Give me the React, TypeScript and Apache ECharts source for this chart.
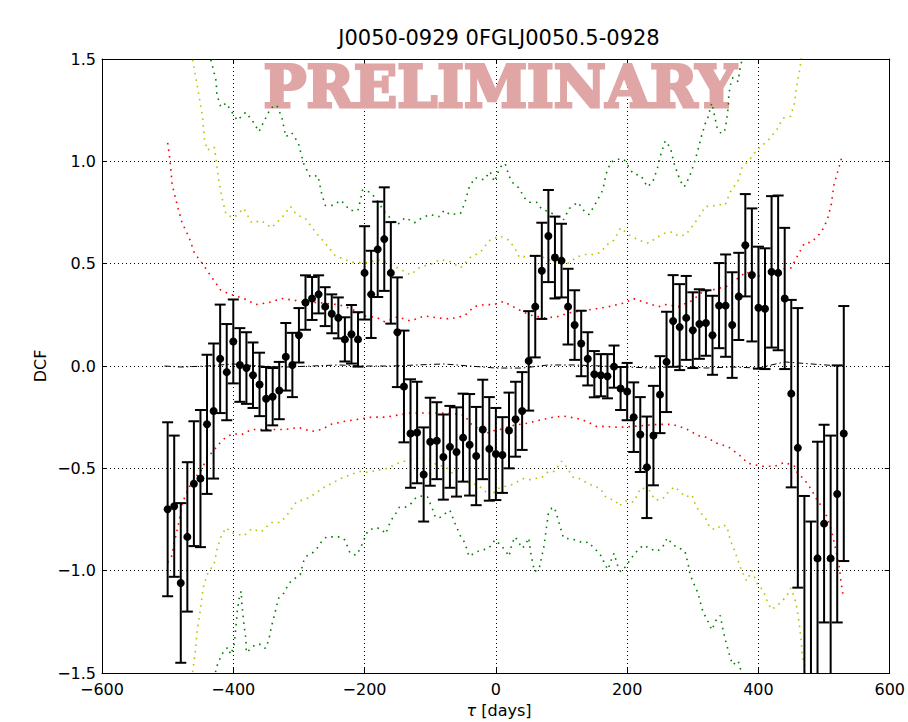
import React, { useEffect, useRef } from "react";
import * as echarts from "echarts";

const titleText = "J0050-0929 0FGLJ0050.5-0928";
const xTicks = [-600, -400, -200, 0, 200, 400, 600];
const yTicks = [-1.5, -1.0, -0.5, 0.0, 0.5, 1.0, 1.5];

const dcfTau = [-500,-490,-480,-470,-460,-450,-440,-430,-420,-410,-400,-390,-380,-370,-360,-350,-340,-330,-320,-310,-300,-290,-280,-270,-260,-250,-240,-230,-220,-210,-200,-190,-180,-170,-160,-150,-140,-130,-120,-110,-100,-90,-80,-70,-60,-50,-40,-30,-20,-10,0,10,20,30,40,50,60,70,80,90,100,110,120,130,140,150,160,170,180,190,200,210,220,230,240,250,260,270,280,290,300,310,320,330,340,350,360,370,380,390,400,410,420,430,440,450,460,470,480,490,500,510,520,530];

const dcfValue = [
  -0.70,-0.685,-1.06,-0.835,-0.575,-0.55,-0.285,-0.22,0.035,-0.03,
  0.12,0.005,-0.01,-0.045,-0.09,-0.16,-0.15,-0.12,0.045,0.005,
  0.15,0.31,0.33,0.35,0.29,0.255,0.235,0.13,0.155,0.13,
  0.455,0.35,0.57,0.62,0.455,0.165,-0.10,-0.33,-0.325,-0.53,
  -0.37,-0.365,-0.445,-0.395,-0.42,-0.35,-0.385,-0.44,-0.31,-0.405,
  -0.43,-0.435,-0.315,-0.26,-0.22,0.025,0.29,0.465,0.635,0.53,
  0.515,0.29,0.20,0.11,0.035,-0.04,-0.045,-0.05,-0.003,-0.11,
  -0.125,-0.25,-0.335,-0.495,-0.34,-0.14,0.02,0.22,0.19,0.235,
  0.175,0.205,0.21,0.15,0.295,0.295,0.20,0.34,0.59,0.445,
  0.285,0.28,0.46,0.455,0.33,-0.135,-0.40,-1.58,-1.70,-0.94,
  -0.77,-0.94,-0.625,-0.33
];

const dcfError = [
  0.425,0.345,0.39,0.365,0.305,0.335,0.34,0.33,0.265,0.235,
  0.205,0.18,0.175,0.16,0.155,0.155,0.14,0.14,0.165,0.157,
  0.133,0.133,0.105,0.093,0.095,0.095,0.10,0.108,0.143,0.133,
  0.228,0.213,0.233,0.253,0.248,0.268,0.273,0.265,0.248,0.23,
  0.215,0.188,0.208,0.20,0.218,0.215,0.248,0.24,0.243,0.253,
  0.225,0.185,0.185,0.183,0.19,0.243,0.248,0.235,0.225,0.20,
  0.18,0.185,0.17,0.16,0.13,0.113,0.103,0.108,0.103,0.105,
  0.14,0.17,0.183,0.248,0.243,0.188,0.245,0.224,0.21,0.205,
  0.185,0.17,0.16,0.193,0.208,0.25,0.258,0.213,0.25,0.325,
  0.298,0.295,0.37,0.378,0.345,0.458,0.683,0.945,0.94,0.57,
  0.483,0.60,0.628,0.623
];

const redUpper = [[-500,1.09],[-497,1.02],[-493,0.885],[-485,0.78],[-478,0.70],[-467,0.625],[-459,0.55],[-447,0.50],[-432,0.43],[-419,0.37],[-404,0.35],[-384,0.33],[-366,0.30],[-346,0.31],[-326,0.33],[-305,0.32],[-290,0.31],[-271,0.31],[-240,0.30],[-221,0.28],[-199,0.245],[-180,0.235],[-169,0.215],[-150,0.24],[-130,0.22],[-109,0.245],[-89,0.235],[-70,0.23],[-48,0.245],[-33,0.29],[-18,0.30],[-3,0.30],[12,0.315],[32,0.28],[51,0.25],[73,0.235],[92,0.24],[112,0.26],[133,0.27],[153,0.28],[172,0.29],[198,0.31],[209,0.33],[228,0.31],[248,0.29],[258,0.30],[278,0.29],[299,0.32],[314,0.36],[334,0.375],[352,0.39],[369,0.43],[382,0.46],[394,0.43],[410,0.455],[429,0.47],[450,0.48],[459,0.535],[470,0.60],[481,0.605],[496,0.655],[505,0.715],[511,0.79],[515,0.885],[527,1.02]];

const redLower = [[-500,-0.96],[-494,-0.93],[-490,-0.865],[-482,-0.75],[-478,-0.67],[-464,-0.57],[-449,-0.51],[-440,-0.45],[-429,-0.41],[-419,-0.37],[-410,-0.345],[-399,-0.33],[-387,-0.335],[-372,-0.31],[-361,-0.31],[-342,-0.31],[-320,-0.31],[-301,-0.30],[-281,-0.32],[-265,-0.31],[-251,-0.285],[-230,-0.27],[-210,-0.26],[-190,-0.25],[-169,-0.25],[-150,-0.24],[-130,-0.23],[-109,-0.23],[-89,-0.23],[-70,-0.23],[-48,-0.24],[-39,-0.28],[-29,-0.30],[-14,-0.33],[-9,-0.32],[6,-0.31],[27,-0.29],[47,-0.28],[66,-0.265],[88,-0.25],[103,-0.245],[122,-0.255],[138,-0.27],[153,-0.295],[168,-0.295],[187,-0.30],[209,-0.295],[228,-0.29],[248,-0.285],[269,-0.285],[289,-0.305],[308,-0.34],[323,-0.35],[334,-0.375],[354,-0.395],[369,-0.43],[384,-0.475],[405,-0.49],[425,-0.49],[440,-0.47],[455,-0.49],[459,-0.52],[470,-0.555],[481,-0.605],[490,-0.66],[500,-0.70],[508,-0.77],[512,-0.815],[518,-0.90],[523,-0.98],[526,-1.06],[529,-1.12]];

const yellowUpper = [[-464,1.56],[-462,1.495],[-456,1.39],[-452,1.315],[-447,1.22],[-444,1.11],[-440,1.055],[-429,1.07],[-426,1.005],[-422,0.90],[-417,0.82],[-411,0.74],[-399,0.725],[-384,0.77],[-372,0.70],[-357,0.71],[-342,0.675],[-326,0.725],[-313,0.78],[-304,0.74],[-290,0.72],[-275,0.655],[-260,0.60],[-245,0.54],[-230,0.52],[-215,0.505],[-195,0.505],[-180,0.52],[-165,0.505],[-150,0.48],[-130,0.445],[-115,0.485],[-100,0.495],[-85,0.52],[-70,0.51],[-54,0.48],[-39,0.53],[-24,0.555],[-9,0.615],[6,0.635],[20,0.615],[29,0.575],[36,0.53],[51,0.54],[65,0.54],[80,0.52],[92,0.505],[107,0.495],[122,0.53],[135,0.545],[148,0.545],[160,0.555],[168,0.59],[180,0.615],[190,0.675],[203,0.64],[218,0.615],[233,0.60],[246,0.63],[258,0.65],[269,0.655],[278,0.635],[289,0.64],[301,0.69],[313,0.745],[319,0.78],[329,0.78],[339,0.79],[349,0.785],[357,0.85],[369,0.905],[375,0.97],[387,1.01],[399,1.06],[414,1.10],[428,1.155],[437,1.21],[449,1.22],[455,1.285],[458,1.36],[462,1.43],[465,1.495],[467,1.56]];

const yellowLower = [[-464,-1.56],[-462,-1.495],[-458,-1.40],[-455,-1.29],[-450,-1.19],[-446,-1.085],[-440,-1.02],[-429,-0.965],[-425,-0.90],[-419,-0.835],[-411,-0.79],[-402,-0.815],[-384,-0.83],[-372,-0.795],[-357,-0.81],[-343,-0.765],[-328,-0.765],[-316,-0.72],[-304,-0.665],[-286,-0.645],[-274,-0.62],[-260,-0.59],[-248,-0.57],[-236,-0.55],[-221,-0.53],[-207,-0.515],[-195,-0.52],[-180,-0.51],[-165,-0.50],[-153,-0.48],[-139,-0.465],[-124,-0.45],[-115,-0.445],[-101,-0.46],[-89,-0.485],[-77,-0.49],[-66,-0.525],[-54,-0.56],[-41,-0.57],[-29,-0.58],[-18,-0.605],[-9,-0.64],[2,-0.60],[12,-0.59],[24,-0.58],[42,-0.55],[51,-0.555],[70,-0.545],[80,-0.515],[89,-0.515],[100,-0.465],[107,-0.49],[118,-0.545],[127,-0.55],[138,-0.57],[148,-0.585],[160,-0.60],[165,-0.635],[175,-0.65],[183,-0.66],[187,-0.685],[198,-0.66],[210,-0.665],[221,-0.595],[233,-0.605],[243,-0.655],[254,-0.65],[263,-0.615],[272,-0.59],[281,-0.615],[289,-0.64],[299,-0.63],[304,-0.68],[311,-0.715],[319,-0.74],[326,-0.79],[334,-0.80],[345,-0.775],[352,-0.785],[357,-0.85],[364,-0.905],[372,-0.98],[376,-1.01],[382,-1.05],[390,-1.0],[399,-1.07],[407,-1.095],[414,-1.155],[420,-1.19],[429,-1.17],[443,-1.125],[449,-1.085],[455,-1.13],[459,-1.19],[462,-1.255],[465,-1.34],[467,-1.42],[470,-1.46],[472,-1.56]];

const greenUpper = [[-437,1.56],[-434,1.495],[-429,1.43],[-426,1.39],[-425,1.325],[-419,1.265],[-411,1.285],[-404,1.25],[-394,1.20],[-381,1.24],[-369,1.19],[-361,1.145],[-354,1.19],[-343,1.26],[-334,1.275],[-326,1.215],[-320,1.12],[-311,1.14],[-301,1.09],[-293,0.99],[-283,0.925],[-271,0.93],[-266,0.85],[-260,0.785],[-248,0.785],[-236,0.81],[-222,0.76],[-210,0.76],[-203,0.86],[-192,0.85],[-183,0.82],[-169,0.75],[-160,0.72],[-150,0.69],[-138,0.725],[-124,0.70],[-112,0.725],[-100,0.74],[-86,0.73],[-79,0.76],[-70,0.74],[-54,0.745],[-47,0.80],[-41,0.87],[-32,0.92],[-18,0.91],[-9,0.95],[-2,0.90],[6,0.97],[14,0.99],[20,0.93],[24,0.90],[35,0.87],[44,0.82],[51,0.80],[62,0.80],[70,0.765],[80,0.755],[89,0.74],[103,0.715],[112,0.77],[125,0.80],[135,0.755],[142,0.74],[153,0.80],[163,0.86],[168,0.94],[175,0.995],[183,1.01],[195,1.01],[209,0.94],[221,0.93],[231,0.875],[239,0.90],[246,0.965],[251,1.03],[258,1.10],[266,1.065],[271,0.995],[278,0.93],[284,0.885],[287,0.875],[295,0.925],[301,0.98],[307,1.045],[313,1.12],[319,1.185],[323,1.215],[329,1.285],[332,1.24],[337,1.165],[342,1.14],[348,1.14],[351,1.19],[354,1.265],[355,1.33],[358,1.38],[361,1.41],[369,1.39],[372,1.455],[375,1.495],[378,1.56]];

const greenLower = [[-430,-1.56],[-426,-1.475],[-419,-1.42],[-414,-1.39],[-408,-1.375],[-404,-1.41],[-399,-1.37],[-396,-1.275],[-394,-1.20],[-391,-1.135],[-388,-1.10],[-387,-1.16],[-384,-1.255],[-381,-1.33],[-380,-1.40],[-373,-1.38],[-366,-1.36],[-358,-1.36],[-351,-1.38],[-346,-1.34],[-342,-1.275],[-336,-1.20],[-331,-1.135],[-323,-1.11],[-319,-1.085],[-313,-1.055],[-305,-1.035],[-298,-1.02],[-293,-0.955],[-289,-0.93],[-278,-0.91],[-271,-0.885],[-266,-0.86],[-258,-0.835],[-248,-0.835],[-237,-0.835],[-230,-0.85],[-222,-0.915],[-213,-0.925],[-207,-0.895],[-203,-0.865],[-195,-0.805],[-184,-0.79],[-175,-0.795],[-168,-0.82],[-160,-0.755],[-154,-0.73],[-147,-0.69],[-138,-0.69],[-130,-0.675],[-122,-0.645],[-115,-0.635],[-104,-0.64],[-97,-0.695],[-92,-0.74],[-85,-0.74],[-77,-0.72],[-70,-0.705],[-62,-0.77],[-54,-0.83],[-47,-0.865],[-41,-0.93],[-33,-0.915],[-24,-0.90],[-14,-0.895],[-6,-0.875],[-2,-0.85],[6,-0.87],[14,-0.90],[20,-0.93],[24,-0.875],[29,-0.835],[35,-0.86],[39,-0.89],[44,-0.88],[50,-0.84],[54,-0.93],[59,-1.005],[66,-0.99],[73,-0.885],[76,-0.815],[80,-0.72],[85,-0.695],[89,-0.69],[92,-0.72],[97,-0.775],[103,-0.84],[112,-0.845],[122,-0.85],[133,-0.865],[141,-0.86],[148,-0.885],[156,-0.91],[163,-0.94],[165,-0.965],[171,-0.995],[175,-0.955],[180,-0.915],[186,-0.98],[190,-1.005],[198,-0.98],[206,-0.94],[216,-0.90],[225,-0.875],[236,-0.895],[246,-0.905],[254,-0.885],[261,-0.84],[269,-0.87],[277,-0.89],[284,-0.895],[289,-0.915],[293,-0.97],[296,-1.02],[301,-1.06],[308,-1.11],[311,-1.15],[316,-1.205],[322,-1.24],[329,-1.29],[337,-1.23],[342,-1.22],[346,-1.29],[351,-1.355],[354,-1.39],[357,-1.425],[361,-1.46],[369,-1.44],[373,-1.485],[376,-1.56]];

const meanLine = [[-505,0.0],[-480,-0.005],[-440,0.0],[-400,0.01],[-360,0.0],[-320,-0.005],[-280,0.0],[-240,0.005],[-200,0.0],[-160,0.0],[-120,0.005],[-80,0.01],[-40,0.0],[0,-0.01],[40,-0.01],[80,0.005],[120,0.005],[160,0.0],[200,-0.005],[240,-0.01],[280,0.0],[320,-0.01],[360,-0.005],[400,-0.01],[440,0.02],[480,0.01],[525,0.0]];

const FONT = "DejaVu Sans";
const fmtMinus = (s: string) => s.replace("-", "\u2212");

function dottedLine(data: number[][], color: string) {
  return {
    type: "line",
    data,
    showSymbol: false,
    silent: true,
    clip: true,
    z: 2,
    lineStyle: { color, width: 1.6, type: [1.6, 5] },
  };
}

export default function App() {
  const ref = useRef<HTMLDivElement>(null);
  useEffect(() => {
    if (!ref.current) return;
    const chart = echarts.init(ref.current, null, { renderer: "svg" });
    const axisCommon = {
      type: "value",
      axisLine: { show: true, onZero: false, lineStyle: { color: "#000", width: 1 } },
      axisTick: { show: true, inside: true, length: 5, lineStyle: { color: "#000" } },
    };
    const option: any = {
      animation: false,
      backgroundColor: "#fff",
      grid: { left: 102, right: 12, top: 59, bottom: 49, containLabel: false },
      xAxis: [
        {
          ...axisCommon,
          min: xTicks[0], max: xTicks[xTicks.length - 1], interval: 200,
          position: "bottom",
          axisLabel: {
            color: "#000", fontFamily: FONT, fontSize: 16, margin: 8,
            formatter: (v: number) => fmtMinus(String(v)),
          },
          splitLine: { show: true, lineStyle: { color: "#000", width: 1, type: [1, 3] } },
        },
        {
          ...axisCommon,
          min: xTicks[0], max: xTicks[xTicks.length - 1], interval: 200,
          position: "top",
          axisLabel: { show: false },
          splitLine: { show: false },
        },
      ],
      yAxis: [
        {
          ...axisCommon,
          min: yTicks[0], max: yTicks[yTicks.length - 1], interval: 0.5,
          position: "left",
          axisLabel: {
            color: "#000", fontFamily: FONT, fontSize: 16, margin: 6,
            formatter: (v: number) => fmtMinus(v.toFixed(1)),
          },
          splitLine: { show: true, lineStyle: { color: "#000", width: 1, type: [1, 3] } },
        },
        {
          ...axisCommon,
          min: yTicks[0], max: yTicks[yTicks.length - 1], interval: 0.5,
          position: "right",
          axisLabel: { show: false },
          splitLine: { show: false },
        },
      ],
      graphic: [
        {
          type: "text", x: 500, y: 86, z: 1, silent: true,
          style: {
            text: "PRELIMINARY", font: 'bold 57px "DejaVu Serif"', fill: "#e0a6a6",
            stroke: "#e0a6a6", lineWidth: 3,
            textAlign: "center", textVerticalAlign: "middle",
          },
        },
        {
          type: "text", x: 499, y: 38, z: 10,
          style: {
            text: titleText, font: `21px "${FONT}"`, fill: "#000",
            textAlign: "center", textVerticalAlign: "middle",
          },
        },
        {
          type: "text", x: 40, y: 366, rotation: Math.PI / 2, z: 10,
          style: {
            text: "DCF", font: `16px "${FONT}"`, fill: "#000",
            textAlign: "center", textVerticalAlign: "middle",
          },
        },
        {
          type: "text", x: 499, y: 710, z: 10,
          style: {
            text: "{t|\u03c4} [days]", font: `16px "${FONT}"`, fill: "#000",
            textAlign: "center", textVerticalAlign: "middle",
            rich: { t: { fontStyle: "italic", fontFamily: FONT, fontSize: 16, fill: "#000" } },
          },
        },
      ],
      series: [
        dottedLine(greenUpper, "#008000"),
        dottedLine(greenLower, "#008000"),
        dottedLine(yellowUpper, "#bfbf00"),
        dottedLine(yellowLower, "#bfbf00"),
        dottedLine(redUpper, "#ff0000"),
        dottedLine(redLower, "#ff0000"),
        {
          type: "line",
          data: meanLine,
          showSymbol: false,
          silent: true,
          z: 2,
          lineStyle: { color: "#000", width: 1, type: [6, 3, 1.5, 3] },
        },
        {
          type: "custom",
          silent: true,
          z: 3,
          data: dcfTau.map((t, i) => [t, dcfValue[i], dcfError[i]]),
          encode: { x: 0, y: 1 },
          renderItem: (params: any, api: any) => {
            const x = api.value(0);
            const v = api.value(1);
            const e = api.value(2);
            const top = api.coord([x, v + e]);
            const bot = api.coord([x, v - e]);
            const cs = params.coordSys;
            const yMin = cs.y;
            const yMax = cs.y + cs.height;
            const style = { stroke: "#000", lineWidth: 2 };
            const children: any[] = [];
            const cy1 = Math.max(top[1], yMin);
            const cy2 = Math.min(bot[1], yMax);
            if (cy1 < cy2) {
              children.push({ type: "line", shape: { x1: top[0], y1: cy1, x2: top[0], y2: cy2 }, style });
            }
            const hw = 5.5;
            if (top[1] >= yMin && top[1] <= yMax) {
              children.push({ type: "line", shape: { x1: top[0] - hw, y1: top[1], x2: top[0] + hw, y2: top[1] }, style });
            }
            if (bot[1] >= yMin && bot[1] <= yMax) {
              children.push({ type: "line", shape: { x1: bot[0] - hw, y1: bot[1], x2: bot[0] + hw, y2: bot[1] }, style });
            }
            return { type: "group", children };
          },
        },
        {
          type: "scatter",
          z: 4,
          silent: true,
          clip: true,
          symbol: "circle",
          symbolSize: 8,
          itemStyle: { color: "#000", opacity: 1 },
          data: dcfTau.map((t, i) => [t, dcfValue[i]]),
        },
      ],
    };
    chart.setOption(option);
    return () => chart.dispose();
  }, []);
  return (
    <div
      ref={ref}
      style={{ position: "fixed", left: 0, top: 0, width: 908, height: 722, background: "#fff" }}
    />
  );
}
